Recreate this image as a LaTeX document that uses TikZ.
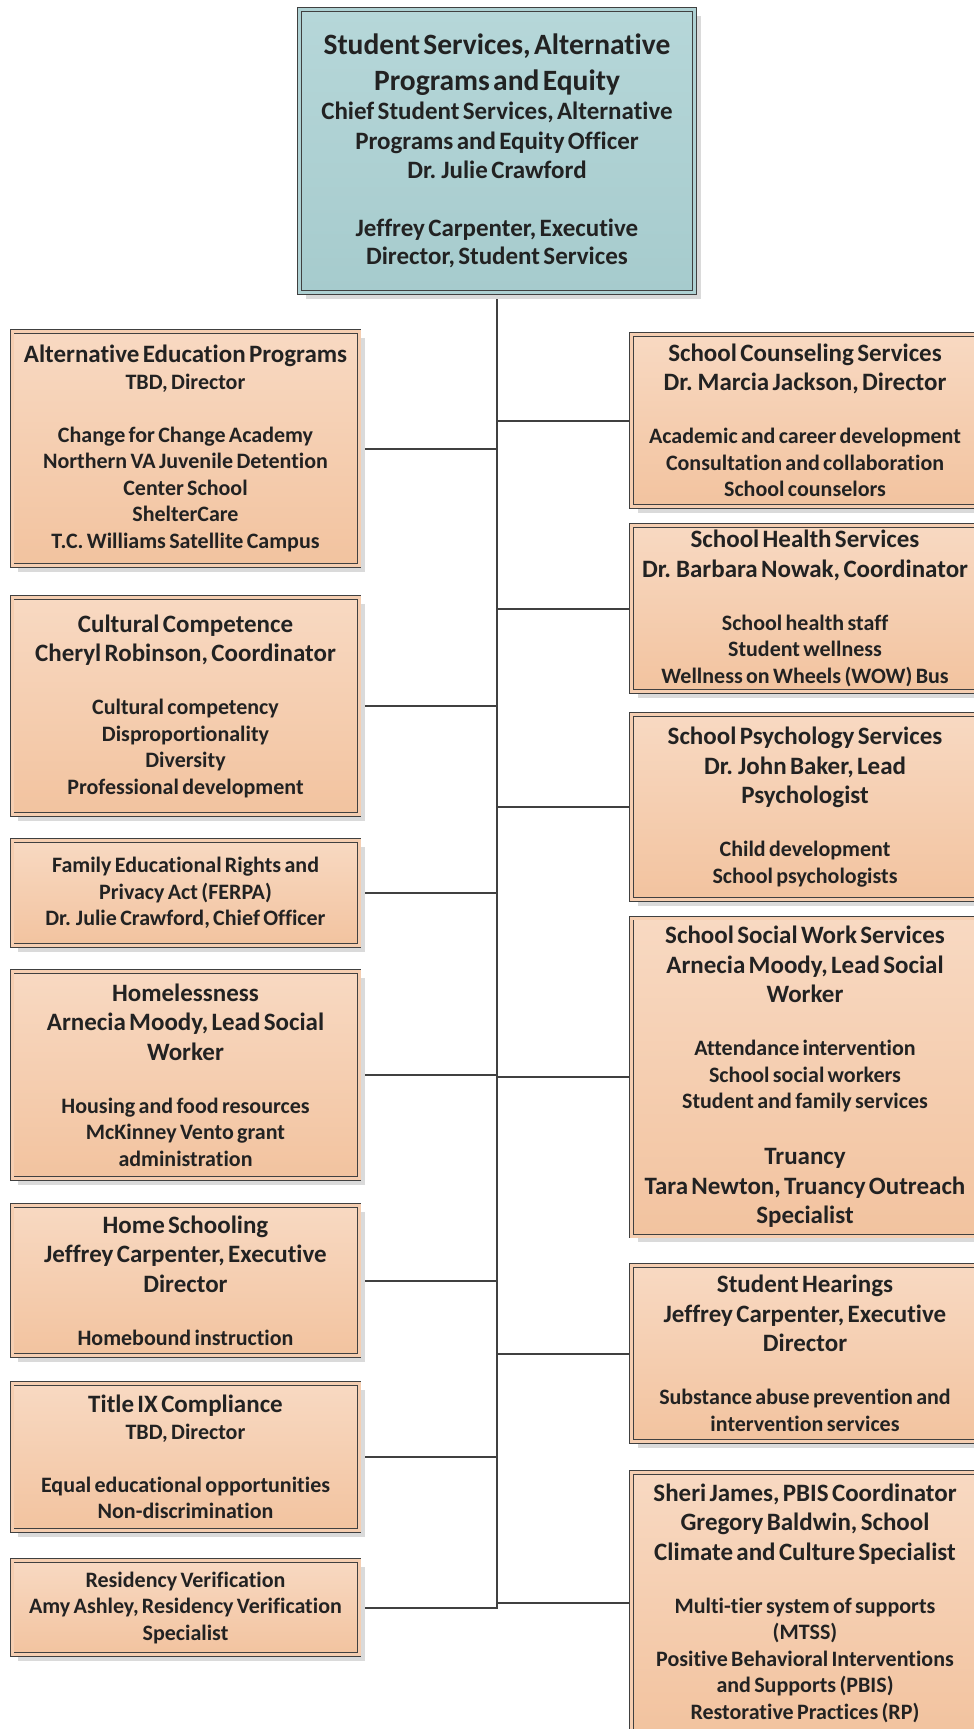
\documentclass[tikz,border=0pt]{standalone}
\usepackage{fontspec}
\setmainfont{Carlito}[Ligatures={NoCommon}]
\usepackage{tikz}
\usetikzlibrary{shadows,backgrounds}
\definecolor{deptpeachTop}{RGB}{248,217,194}
\definecolor{deptpeachMid}{RGB}{245,206,177}
\definecolor{deptpeachBot}{RGB}{242,195,159}
\definecolor{chieftealTop}{RGB}{182,215,217}
\definecolor{chieftealMid}{RGB}{174,209,211}
\definecolor{chieftealBot}{RGB}{166,203,205}
\definecolor{linegray}{RGB}{64,64,64}
\definecolor{textdark}{RGB}{34,34,34}
\definecolor{shadowgray}{RGB}{218,218,218}

% one line of a box, heading size or list size
\newcommand{\headln}[1]{{\fontsize{25}{29.5}\selectfont #1\par}}
\newcommand{\itemln}[1]{{\fontsize{22}{26.5}\selectfont #1\par}}
\newcommand{\blankln}{\vskip 26.5pt}

\begin{document}
\begin{tikzpicture}[x=1pt, y=-1pt,
  deptbox/.style={draw=linegray, line width=0.8pt, double=deptpeachMid, double distance=3pt,
    top color=deptpeachTop, bottom color=deptpeachBot,
    drop shadow={shadow xshift=6pt, shadow yshift=-6pt, fill=shadowgray, opacity=1},
    text width=335pt, align=center, inner sep=2pt, minimum width=347pt,
    font={\bfseries\parindent=0pt}, text=textdark},
  chiefbox/.style={deptbox, double=chieftealMid, top color=chieftealTop, bottom color=chieftealBot,
    text width=385pt, minimum width=395pt},
  orgline/.style={draw=linegray, line width=2pt}]
  \clip (0,0) rectangle (974,1729);

  % top
  \node[chiefbox, minimum height=283pt] (chief) at (497,151) {%
    {\fontsize{29.5}{36}\selectfont Student Services, Alternative\par Programs and Equity\par}%
    {\fontsize{25}{29.3}\selectfont Chief Student Services, Alternative\par Programs and Equity Officer\par Dr. Julie Crawford\par}%
    \vskip 29.3pt
    {\fontsize{25}{28.5}\selectfont Jeffrey Carpenter, Executive\par Director, Student Services\par}};

  % left column
  \node[deptbox, minimum height=234pt] (altedu) at (185.5,448.5) {%
    \headln{Alternative Education Programs}\itemln{TBD, Director}\blankln
    \itemln{Change for Change Academy}\itemln{Northern VA Juvenile Detention}\itemln{Center School}\itemln{ShelterCare}\itemln{T.C. Williams Satellite Campus}};
  \node[deptbox, minimum height=217pt] (cultural) at (185.5,706) {%
    \headln{Cultural Competence}\headln{Cheryl Robinson, Coordinator}\blankln
    \itemln{Cultural competency}\itemln{Disproportionality}\itemln{Diversity}\itemln{Professional development}};
  \node[deptbox, minimum height=105pt] (ferpa) at (185.5,893) {%
    \itemln{Family Educational Rights and}\itemln{Privacy Act (FERPA)}\itemln{Dr. Julie Crawford, Chief Officer}};
  \node[deptbox, minimum height=207pt] (homeless) at (185.5,1075) {%
    \headln{Homelessness}\headln{Arnecia Moody, Lead Social}\headln{Worker}\blankln
    \itemln{Housing and food resources}\itemln{McKinney Vento grant}\itemln{administration}};
  \node[deptbox, minimum height=150pt] (homeschool) at (185.5,1280.5) {%
    \headln{Home Schooling}\headln{Jeffrey Carpenter, Executive}\headln{Director}\blankln
    \itemln{Homebound instruction}};
  \node[deptbox, minimum height=147pt] (titleix) at (185.5,1457) {%
    \headln{Title IX Compliance}\itemln{TBD, Director}\blankln
    \itemln{Equal educational opportunities}\itemln{Non-discrimination}};
  \node[deptbox, minimum height=94pt] (resid) at (185.5,1607.5) {%
    \itemln{Residency Verification}\itemln{Amy Ashley, Residency Verification}\itemln{Specialist}};

  % right column
  \node[deptbox, minimum height=172pt] (counsel) at (805,420.5) {%
    \headln{School Counseling Services}\headln{Dr. Marcia Jackson, Director}\blankln
    \itemln{Academic and career development}\itemln{Consultation and collaboration}\itemln{School counselors}};
  \node[deptbox, minimum height=166pt] (health) at (805,608.5) {%
    \headln{School Health Services}\headln{Dr. Barbara Nowak, Coordinator}\blankln
    \itemln{School health staff}\itemln{Student wellness}\itemln{Wellness on Wheels (WOW) Bus}};
  \node[deptbox, minimum height=185pt] (psych) at (805,807) {%
    \headln{School Psychology Services}\headln{Dr. John Baker, Lead}\headln{Psychologist}\blankln
    \itemln{Child development}\itemln{School psychologists}};
  \node[deptbox, minimum height=318pt] (social) at (805,1077) {%
    \headln{School Social Work Services}\headln{Arnecia Moody, Lead Social}\headln{Worker}\blankln
    \itemln{Attendance intervention}\itemln{School social workers}\itemln{Student and family services}\blankln
    \headln{Truancy}\headln{Tara Newton, Truancy Outreach}\headln{Specialist}};
  \node[deptbox, minimum height=176pt] (hearings) at (805,1353.5) {%
    \headln{Student Hearings}\headln{Jeffrey Carpenter, Executive}\headln{Director}\blankln
    \itemln{Substance abuse prevention and}\itemln{intervention services}};
  \node[deptbox, minimum height=261pt] (pbis) at (805,1603) {%
    \headln{Sheri James, PBIS Coordinator}\headln{Gregory Baldwin, School}\headln{Climate and Culture Specialist}\blankln
    \itemln{Multi-tier system of supports}\itemln{(MTSS)}\itemln{Positive Behavioral Interventions}\itemln{and Supports (PBIS)}\itemln{Restorative Practices (RP)}};

  \begin{scope}[on background layer]
    \draw[orgline] (chief.south) |- (resid.east);
    \foreach \dept in {altedu,cultural,ferpa,homeless,homeschool,titleix}
      \draw[orgline] (\dept.east) -- (\dept.east -| chief.south);
    \foreach \dept in {counsel,health,psych,social,hearings,pbis}
      \draw[orgline] (\dept.west) -- (\dept.west -| chief.south);
  \end{scope}
\end{tikzpicture}
\end{document}
